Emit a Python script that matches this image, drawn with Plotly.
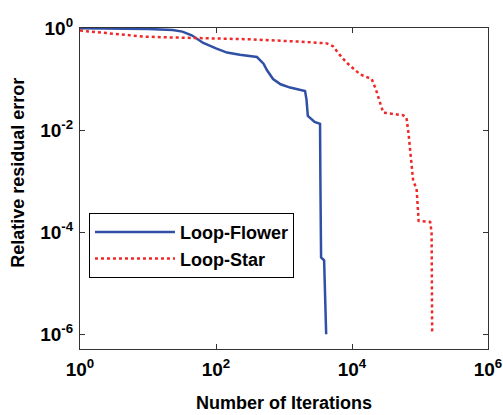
import plotly.graph_objects as go

# Data (iterations vs. relative residual error)
flower_iter = [1, 3, 10, 23, 32, 44, 65, 100, 145, 224, 400, 500, 560, 690, 890,
               1230, 2040, 2140, 2240, 2820, 3390, 3430, 3510, 3890, 3980, 4070, 4170]
flower_res = [0.99, 0.98, 0.96, 0.91, 0.85, 0.72, 0.51, 0.40, 0.33, 0.30, 0.27,
              0.20, 0.15, 0.10, 0.079, 0.068, 0.058, 0.040, 0.019, 0.0145, 0.0132,
              1.0e-3, 3.2e-5, 2.8e-5, 1.0e-5, 3.2e-6, 1.0e-6]

star_iter = [1, 2.75, 8.5, 16, 52, 316, 1740, 3160, 4270, 5250, 6310, 8320,
             13200, 19500, 22400, 28800, 56200, 63100, 67600, 79400, 89100,
             95500, 141000, 148000, 151000]
star_res = [0.89, 0.79, 0.68, 0.66, 0.63, 0.60, 0.54, 0.52, 0.50, 0.44, 0.32,
            0.21, 0.123, 0.10, 0.063, 0.022, 0.0195, 0.0178, 0.0089, 1.0e-3,
            7.1e-4, 1.66e-4, 1.58e-4, 1.0e-4, 1.1e-6]

x_tickvals = [1, 100, 1e4, 1e6]
x_ticktext = ["<b>10<sup>0</sup></b>", "<b>10<sup>2</sup></b>",
              "<b>10<sup>4</sup></b>", "<b>10<sup>6</sup></b>"]
y_tickvals = [1, 1e-2, 1e-4, 1e-6]
y_ticktext = ["<b>10<sup>0</sup></b>", "<b>10<sup>-2</sup></b>",
              "<b>10<sup>-4</sup></b>", "<b>10<sup>-6</sup></b>"]

FONT = "Liberation Sans, Arial, sans-serif"

fig = go.Figure()
fig.add_trace(go.Scatter(x=flower_iter, y=flower_res, mode="lines",
                         name="<b>Loop-Flower</b>",
                         line=dict(color="#3050a6", width=2.5)))
fig.add_trace(go.Scatter(x=star_iter, y=star_res, mode="lines",
                         name="<b>Loop-Star</b>",
                         line=dict(color="#f02828", width=2.5, dash="dot")))

axis_common = dict(type="log", showgrid=False, zeroline=False, automargin=False,
                   showline=True, linecolor="#333333", linewidth=1.2,
                   mirror="ticks", ticks="inside", ticklen=5,
                   tickcolor="#333333", tickwidth=1,
                   tickfont=dict(family=FONT, size=19, color="black"))

fig.update_xaxes(range=[0, 6], tickvals=x_tickvals, ticktext=x_ticktext,
                 ticklabelstandoff=3, **axis_common)
fig.update_yaxes(range=[-6.29, 0], tickvals=y_tickvals, ticktext=y_ticktext,
                 ticklabelstandoff=2, **axis_common)

fig.add_annotation(text="<b>Relative residual error</b>", textangle=-90,
                   xref="paper", yref="paper", x=-0.151, y=0.55,
                   showarrow=False, xanchor="center", yanchor="middle",
                   font=dict(family=FONT, size=18, color="black"))
fig.add_annotation(text="<b>Number of Iterations</b>",
                   xref="paper", yref="paper", x=0.5, y=-0.168,
                   showarrow=False, xanchor="center", yanchor="middle",
                   font=dict(family=FONT, size=18, color="black"))

fig.update_layout(
    width=503, height=415,
    margin=dict(l=80, r=15, t=28, b=66),
    plot_bgcolor="white", paper_bgcolor="white",
    showlegend=True,
    legend=dict(x=0.022, y=0.424, xanchor="left", yanchor="top",
                bgcolor="white", bordercolor="black", borderwidth=1,
                font=dict(family=FONT, size=18, color="black"),
                itemwidth=80, entrywidth=228, entrywidthmode="pixels",
                tracegroupgap=0),
)

fig.write_html("out.html")
